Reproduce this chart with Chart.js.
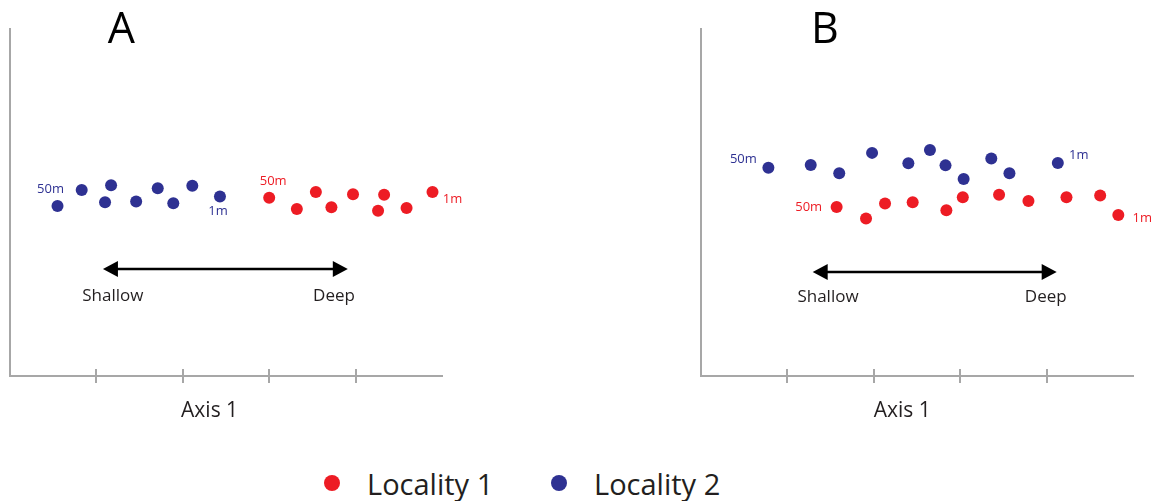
<!DOCTYPE html>
<html>
<head>
<meta charset="utf-8">
<script src="https://cdn.jsdelivr.net/npm/chart.js@4.4.1/dist/chart.umd.min.js"></script>
<style>
  html, body { margin: 0; padding: 0; background: #fff; }
  body { width: 1151px; height: 501px; position: relative; overflow: hidden; font-family: "Open Sans", sans-serif; }
  .panel { position: absolute; top: 0; height: 440px; }
  #panelA { left: 0; width: 575px; }
  #panelB { left: 575px; width: 576px; }
  .legend-item { position: absolute; top: 461px; height: 44px; display: flex; align-items: center; font-size: 29px; color: #231f20; }
  .legend-dot { width: 16px; height: 16px; border-radius: 50%; margin-right: 27px; }
</style>
</head>
<body>
<div class="panel" id="panelA"><canvas id="chartA"></canvas></div>
<div class="panel" id="panelB"><canvas id="chartB"></canvas></div>
<div class="legend-item" id="leg1" style="left:324px"><span class="legend-dot" id="dot1"></span><span>Locality 1</span></div>
<div class="legend-item" id="leg2" style="left:551px"><span class="legend-dot" id="dot2"></span><span>Locality 2</span></div>
<script>
// Ordination scores along Axis 1 (x) and a secondary axis (y), sampled from 50 m down to 1 m
const panelA_loc2_x = [0.55, 0.83, 1.10, 1.17, 1.46, 1.71, 1.89, 2.11, 2.43];
const panelA_loc2_y = [4.90, 5.36, 5.01, 5.50, 5.03, 5.41, 4.98, 5.48, 5.17];
const panelA_loc1_x = [3.00, 3.32, 3.54, 3.72, 3.97, 4.26, 4.33, 4.59, 4.89];
const panelA_loc1_y = [5.14, 4.81, 5.30, 4.86, 5.24, 4.76, 5.22, 4.84, 5.30];

const panelB_loc2_x = [0.78, 1.27, 1.60, 1.98, 2.40, 2.65, 2.83, 3.04, 3.36, 3.57, 4.13];
const panelB_loc2_y = [6.00, 6.08, 5.84, 6.43, 6.13, 6.51, 6.07, 5.68, 6.27, 5.84, 6.14];
const panelB_loc1_x = [1.57, 1.91, 2.13, 2.45, 2.84, 3.03, 3.45, 3.79, 4.23, 4.62, 4.83];
const panelB_loc1_y = [4.87, 4.54, 4.97, 5.01, 4.78, 5.15, 5.22, 5.04, 5.15, 5.20, 4.64];

const seriesNames = ['Locality 1', 'Locality 2'];
const axisTicks = [1, 2, 3, 4];
const depthLabels = ['50m', '1m'];

const RED = '#ed1c24';
const BLUE = '#2e3192';
const AXIS_GREY = '#a7a7a7';
const INK = '#231f20';
const FONT = '"Open Sans", sans-serif';

function toPoints(xs, ys) { return xs.map((x, i) => ({ x: x, y: ys[i] })); }

// Draws the panel letter, axis ticks, axis title, depth labels and the shallow/deep arrow
const overlayPlugin = {
  id: 'overlay',
  afterDraw(chart, args, opts) {
    const { ctx, chartArea, scales } = chart;
    const xs = scales.x, ys = scales.y;
    ctx.save();

    // tick marks crossing the x axis
    const y0 = ys.getPixelForValue(0);
    ctx.strokeStyle = AXIS_GREY;
    ctx.lineWidth = 2;
    axisTicks.forEach(v => {
      const px = Math.round(xs.getPixelForValue(v));
      ctx.beginPath();
      ctx.moveTo(px, y0 - 7);
      ctx.lineTo(px, y0 + 7);
      ctx.stroke();
    });

    // panel letter
    ctx.fillStyle = '#000';
    ctx.textAlign = 'center';
    ctx.textBaseline = 'alphabetic';
    ctx.font = '43px ' + FONT;
    ctx.fillText(opts.letter, xs.getPixelForValue(opts.letterX), chartArea.top + 14);

    // axis title
    ctx.fillStyle = INK;
    ctx.font = '21px ' + FONT;
    ctx.textBaseline = 'middle';
    ctx.fillText('Axis 1', xs.getPixelForValue(opts.axisTitleX), chartArea.bottom + 35);

    // depth labels at the first and last sample of each series
    ctx.font = '13px ' + FONT;
    opts.depthTags.forEach(tag => {
      const meta = chart.getDatasetMeta(tag.dataset);
      const el = meta.data[tag.index];
      ctx.fillStyle = chart.data.datasets[tag.dataset].backgroundColor;
      ctx.fillText(tag.text, el.x + tag.dx, el.y + tag.dy);
    });

    // shallow <-> deep gradient arrow
    const a = opts.arrow;
    const ax1 = xs.getPixelForValue(a.from), ax2 = xs.getPixelForValue(a.to);
    const ay = ys.getPixelForValue(a.y);
    const head = 15, half = 8;
    ctx.strokeStyle = '#000';
    ctx.fillStyle = '#000';
    ctx.lineWidth = 2.5;
    ctx.beginPath();
    ctx.moveTo(ax1 + head - 2, ay);
    ctx.lineTo(ax2 - head + 2, ay);
    ctx.stroke();
    ctx.beginPath();
    ctx.moveTo(ax1, ay); ctx.lineTo(ax1 + head, ay - half); ctx.lineTo(ax1 + head, ay + half); ctx.closePath();
    ctx.fill();
    ctx.beginPath();
    ctx.moveTo(ax2, ay); ctx.lineTo(ax2 - head, ay - half); ctx.lineTo(ax2 - head, ay + half); ctx.closePath();
    ctx.fill();

    ctx.fillStyle = INK;
    ctx.font = '17px ' + FONT;
    ctx.fillText('Shallow', xs.getPixelForValue(a.shallowX), ys.getPixelForValue(a.textY));
    ctx.fillText('Deep', xs.getPixelForValue(a.deepX), ys.getPixelForValue(a.textY));

    ctx.restore();
  }
};

function makeChart(canvasId, loc1, loc2, padding, overlay) {
  return new Chart(document.getElementById(canvasId), {
    type: 'scatter',
    data: {
      datasets: [
        { label: seriesNames[0], data: loc1, backgroundColor: RED, borderWidth: 0, pointRadius: 6, pointHoverRadius: 6 },
        { label: seriesNames[1], data: loc2, backgroundColor: BLUE, borderWidth: 0, pointRadius: 6, pointHoverRadius: 6 }
      ]
    },
    options: {
      responsive: true,
      maintainAspectRatio: false,
      animation: false,
      events: [],
      layout: { padding: padding },
      plugins: {
        legend: { display: false },
        title: { display: false },
        tooltip: { enabled: false },
        overlay: overlay
      },
      scales: {
        x: {
          type: 'linear', min: 0, max: 5,
          grid: { display: false, drawTicks: false },
          border: { display: true, color: AXIS_GREY, width: 2 },
          ticks: { display: false }
        },
        y: {
          type: 'linear', min: 0, max: 10,
          grid: { display: false, drawTicks: false },
          border: { display: true, color: AXIS_GREY, width: 2 },
          ticks: { display: false }
        }
      }
    },
    plugins: [overlayPlugin]
  });
}

const lastA2 = panelA_loc2_x.length - 1, lastA1 = panelA_loc1_x.length - 1;
makeChart('chartA',
  toPoints(panelA_loc1_x, panelA_loc1_y),
  toPoints(panelA_loc2_x, panelA_loc2_y),
  { left: 10, right: 133, top: 29, bottom: 64 },
  {
    letter: 'A', letterX: 1.29, axisTitleX: 2.31,
    depthTags: [
      { dataset: 1, index: 0, text: depthLabels[0], dx: -7, dy: -17 },
      { dataset: 1, index: lastA2, text: depthLabels[1], dx: -2, dy: 15 },
      { dataset: 0, index: 0, text: depthLabels[0], dx: 4, dy: -16 },
      { dataset: 0, index: lastA1, text: depthLabels[1], dx: 20, dy: 7 }
    ],
    arrow: { from: 1.076, to: 3.91, y: 3.08, shallowX: 1.19, deepX: 3.75, textY: 2.31 }
  });

const lastB2 = panelB_loc2_x.length - 1, lastB1 = panelB_loc1_x.length - 1;
makeChart('chartB',
  toPoints(panelB_loc1_x, panelB_loc1_y),
  toPoints(panelB_loc2_x, panelB_loc2_y),
  { left: 126, right: 18, top: 29, bottom: 64 },
  {
    letter: 'B', letterX: 1.435, axisTitleX: 2.33,
    depthTags: [
      { dataset: 1, index: 0, text: depthLabels[0], dx: -25, dy: -9 },
      { dataset: 1, index: lastB2, text: depthLabels[1], dx: 21, dy: -8 },
      { dataset: 0, index: 0, text: depthLabels[0], dx: -28, dy: 0 },
      { dataset: 0, index: lastB1, text: depthLabels[1], dx: 24, dy: 3 }
    ],
    arrow: { from: 1.293, to: 4.117, y: 3.0, shallowX: 1.47, deepX: 3.99, textY: 2.28 }
  });

document.getElementById('dot1').style.background = RED;
document.getElementById('dot2').style.background = BLUE;
</script>
</body>
</html>
